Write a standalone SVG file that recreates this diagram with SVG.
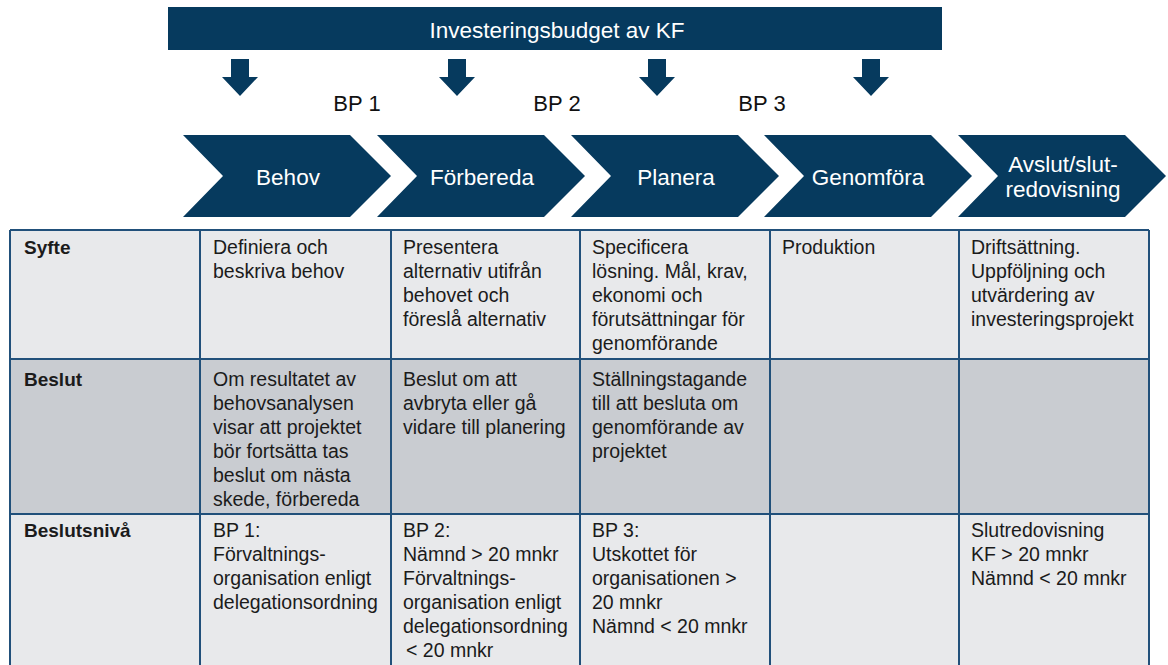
<svg xmlns="http://www.w3.org/2000/svg" width="1168" height="665" viewBox="0 0 1168 665">
<style>
.navy{fill:#063a5e}
.wt{fill:#ffffff;font-family:"Liberation Sans",Arial,sans-serif;font-size:22.5px;text-anchor:middle}
.bp{fill:#111;font-family:"Liberation Sans",Arial,sans-serif;font-size:22px;text-anchor:middle}
.c{fill:#1b1b1b;font-family:"Liberation Sans",Arial,sans-serif;font-size:19.5px}
.b{font-weight:bold;font-size:19px}
.l1{fill:#e8e9eb}
.l2{fill:#c9ccd1}
.grid{stroke:#21507a;stroke-width:2;fill:none}
</style>
<defs>
<path id="dn" d="M-9,0 H9 V18 H18 L0,37 L-18,18 H-9 Z" class="navy"/>
<path id="chev" d="M0,0 H167 L208,41 L167,82 H0 L40,41 Z" class="navy"/>
</defs>
<g id="budget">
<rect x="168" y="7" width="774" height="43" class="navy"/>
<text x="557" y="38" class="wt" font-size="24">Investeringsbudget av KF</text>
</g>
<g id="connectors">
<use href="#dn" x="240" y="59"/>
<use href="#dn" x="457" y="59"/>
<use href="#dn" x="657" y="59"/>
<use href="#dn" x="871" y="59"/>
</g>
<g id="bp-labels">
<text x="357" y="111" class="bp">BP 1</text>
<text x="557" y="111" class="bp">BP 2</text>
<text x="762" y="111" class="bp">BP 3</text>
</g>
<g id="chevron-behov"><use href="#chev" x="183" y="135"/><text x="288" y="185" class="wt">Behov</text></g>
<g id="chevron-forbereda"><use href="#chev" x="377" y="135"/><text x="482" y="185" class="wt">Förbereda</text></g>
<g id="chevron-planera"><use href="#chev" x="571" y="135"/><text x="676" y="185" class="wt">Planera</text></g>
<g id="chevron-genomfora"><use href="#chev" x="764" y="135"/><text x="868" y="185" class="wt">Genomföra</text></g>
<g id="chevron-avslut"><use href="#chev" x="958" y="135"/><text x="1063" y="172" class="wt">Avslut/slut-</text><text x="1063" y="197" class="wt">redovisning</text></g>
<g id="table">
<rect x="10" y="230" width="1139" height="129" class="l1"/>
<rect x="10" y="359" width="1139" height="155" class="l2"/>
<rect x="10" y="514" width="1139" height="155" class="l1"/>
<path class="grid" d="M10,230 H1149 M10,359 H1149 M10,514 H1149 M10,230 V665 M200,230 V665 M391,230 V665 M580,230 V665 M770,230 V665 M959,230 V665 M1149,230 V665"/>
</g>
<g id="row-syfte">
<text x="24" y="254" class="c b">Syfte</text>
<text x="213" y="254" class="c">Definiera och<tspan x="213" dy="24">beskriva behov</tspan></text>
<text x="403" y="254" class="c">Presentera<tspan x="403" dy="24">alternativ utifrån</tspan><tspan x="403" dy="24">behovet och</tspan><tspan x="403" dy="24">föreslå alternativ</tspan></text>
<text x="592" y="254" class="c">Specificera<tspan x="592" dy="24">lösning. Mål, krav,</tspan><tspan x="592" dy="24">ekonomi och</tspan><tspan x="592" dy="24">förutsättningar för</tspan><tspan x="592" dy="24">genomförande</tspan></text>
<text x="782" y="254" class="c">Produktion</text>
<text x="971" y="254" class="c">Driftsättning.<tspan x="971" dy="24">Uppföljning och</tspan><tspan x="971" dy="24">utvärdering av</tspan><tspan x="971" dy="24">investeringsprojekt</tspan></text>
</g>
<g id="row-beslut">
<text x="24" y="386" class="c b">Beslut</text>
<text x="213" y="386" class="c">Om resultatet av<tspan x="213" dy="24">behovsanalysen</tspan><tspan x="213" dy="24">visar att projektet</tspan><tspan x="213" dy="24">bör fortsätta tas</tspan><tspan x="213" dy="24">beslut om nästa</tspan><tspan x="213" dy="24">skede, förbereda</tspan></text>
<text x="403" y="386" class="c">Beslut om att<tspan x="403" dy="24">avbryta eller gå</tspan><tspan x="403" dy="24">vidare till planering</tspan></text>
<text x="592" y="386" class="c">Ställningstagande<tspan x="592" dy="24">till att besluta om</tspan><tspan x="592" dy="24">genomförande av</tspan><tspan x="592" dy="24">projektet</tspan></text>
</g>
<g id="row-beslutsniva">
<text x="24" y="537" class="c b">Beslutsnivå</text>
<text x="213" y="537" class="c">BP 1:<tspan x="213" dy="24">Förvaltnings-</tspan><tspan x="213" dy="24">organisation enligt</tspan><tspan x="213" dy="24">delegationsordning</tspan></text>
<text x="403" y="537" class="c">BP 2:<tspan x="403" dy="24">Nämnd &gt; 20 mnkr</tspan><tspan x="403" dy="24">Förvaltnings-</tspan><tspan x="403" dy="24">organisation enligt</tspan><tspan x="403" dy="24">delegationsordning</tspan><tspan x="406" dy="24">&lt; 20 mnkr</tspan></text>
<text x="592" y="537" class="c">BP 3:<tspan x="592" dy="24">Utskottet för</tspan><tspan x="592" dy="24">organisationen &gt;</tspan><tspan x="592" dy="24">20 mnkr</tspan><tspan x="592" dy="24">Nämnd &lt; 20 mnkr</tspan></text>
<text x="971" y="537" class="c">Slutredovisning<tspan x="971" dy="24">KF &gt; 20 mnkr</tspan><tspan x="971" dy="24">Nämnd &lt; 20 mnkr</tspan></text>
</g>
</svg>
